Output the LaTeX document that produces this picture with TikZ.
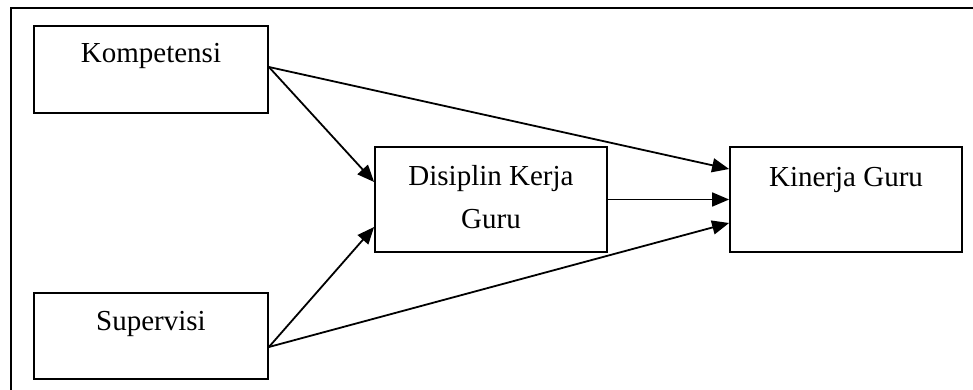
\documentclass[tikz,border=0pt]{standalone}
\usepackage{fontspec}
\setmainfont{Liberation Serif}
\usetikzlibrary{arrows.meta}
\begin{document}
\begin{tikzpicture}[x=1pt,y=-1pt,
  box/.style={draw,line width=1.8pt,rectangle,inner sep=0pt},
  lbl/.style={font=\fontsize{29}{43}\selectfont,align=center,inner sep=0pt},
  arr/.style={line width=1.8pt,-{Triangle[length=17pt,width=14pt]}},
  ln/.style={line width=1.8pt}]
\useasboundingbox (0,0) rectangle (973,390);
\coordinate (fa) at (11,392);
\coordinate (fb) at (11,8);
\coordinate (fc) at (975,8);
\draw[ln] (fa) -- (fb) -- (fc);
\node[box,minimum width=234pt,minimum height=87pt] (komp) at (151,69.5) {};
\node[box,minimum width=234pt,minimum height=86pt] (sup) at (151,336) {};
\node[box,minimum width=232pt,minimum height=105pt] (dis) at (491,199.5) {};
\node[box,minimum width=232pt,minimum height=105pt] (kin) at (846,199.5) {};
\node[lbl] (tkomp) at (151,56) {Kompetensi};
\node[lbl] (tsup) at (151,324) {Supervisi};
\node[lbl] (tdis) at (491,197.5) {Disiplin Kerja\\Guru};
\node[lbl] (tkin) at (846,180) {Kinerja Guru};
\draw[arr] ([yshift=2.5pt]komp.east) -- ([yshift=17.5pt]dis.west);
\draw[arr] ([yshift=2.5pt]komp.east) -- ([yshift=30.5pt]kin.west);
\draw[arr] (dis.east) -- (kin.west);
\draw[arr] ([yshift=-11pt]sup.east) -- ([yshift=-27.5pt]dis.west);
\draw[arr] ([yshift=-11pt]sup.east) -- ([yshift=-23.5pt]kin.west);
\end{tikzpicture}
\end{document}
